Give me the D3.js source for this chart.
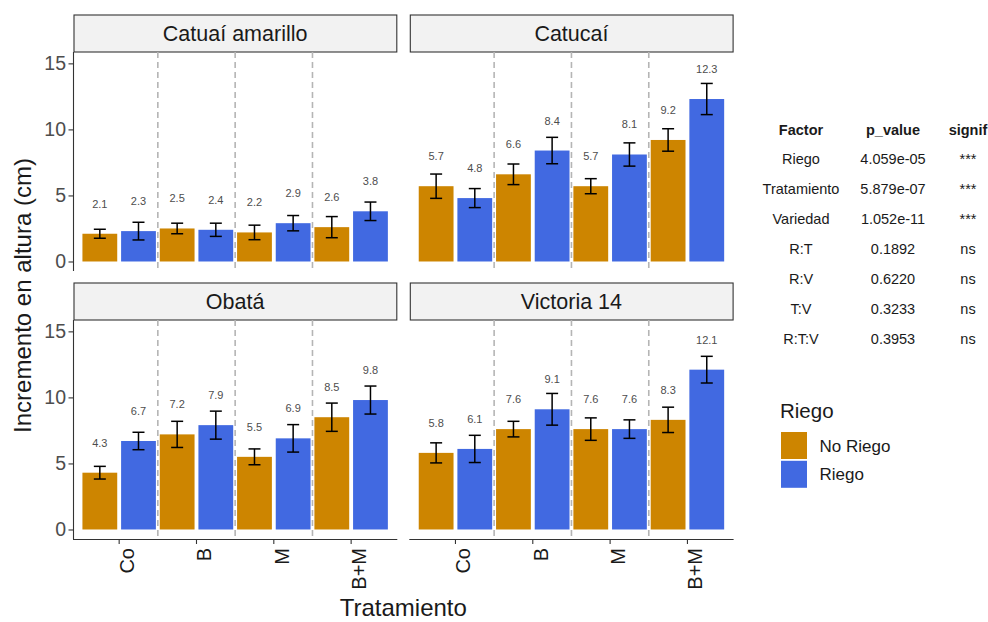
<!DOCTYPE html>
<html>
<head>
<meta charset="utf-8">
<script src="https://cdn.jsdelivr.net/npm/d3@7"></script>
<style>
  html, body { margin: 0; padding: 0; background: #ffffff; }
  svg { display: block; font-family: "Liberation Sans", Arial, Helvetica, sans-serif; }
</style>
</head>
<body>
<svg id="chart" width="988" height="622"></svg>
<script>
// ---------------- data ----------------
const varieties = ["Catuaí amarillo", "Catucaí", "Obatá", "Victoria 14"];
const treatments = ["Co", "B", "M", "B+M"];
const riegoLevels = ["No Riego", "Riego"];
const riegoColors = ["#CD8500", "#4169E1"];

// one inner array per variety, values in treatment order
const meanNoRiego = [[2.1, 2.5, 2.2, 2.6], [5.7, 6.6, 5.7, 9.2], [4.3, 7.2, 5.5, 8.5], [5.8, 7.6, 7.6, 8.3]];
const meanRiego   = [[2.3, 2.4, 2.9, 3.8], [4.8, 8.4, 8.1, 12.3], [6.7, 7.9, 6.9, 9.8], [6.1, 9.1, 7.6, 12.1]];
const seNoRiego   = [[0.34, 0.40, 0.55, 0.80], [0.92, 0.78, 0.57, 0.85], [0.48, 0.99, 0.60, 1.07], [0.76, 0.59, 0.85, 0.96]];
const seRiego     = [[0.67, 0.50, 0.58, 0.70], [0.72, 1.00, 0.88, 1.18], [0.66, 1.06, 1.04, 1.06], [1.03, 1.20, 0.70, 1.01]];

const yTicks = [0, 5, 10, 15];

const tableHeader = ["Factor", "p_value", "signif"];
const tableFactor = ["Riego", "Tratamiento", "Variedad", "R:T", "R:V", "T:V", "R:T:V"];
const tablePValue = ["4.059e-05", "5.879e-07", "1.052e-11", "0.1892", "0.6220", "0.3233", "0.3953"];
const tableSignif = ["***", "***", "***", "ns", "ns", "ns", "ns"];

// ---------------- layout ----------------
const svg = d3.select("#chart");
const colX = [73, 409.3];
const panelW = 324.3;
const stripTop = [15, 283];
const panelTop = [52, 320];
const panelBottom = [271, 539];
const yDomain = [-0.72, 15.86];

const axisColor = "#333333";

varieties.forEach((v, vi) => {
  const col = vi % 2, row = Math.floor(vi / 2);
  const x0 = colX[col];
  const g = svg.append("g");

  const x = d3.scaleBand().domain(treatments).range([x0, x0 + panelW]).paddingInner(0).paddingOuter(0.097);
  const xs = d3.scaleBand().domain(riegoLevels).range([0, x.bandwidth()]).paddingInner(0.1).paddingOuter(0.05);
  const y = d3.scaleLinear().domain(yDomain).range([panelBottom[row], panelTop[row]]);

  // strip
  g.append("rect")
    .attr("x", x0 + 1).attr("y", stripTop[row])
    .attr("width", panelW - 1.5).attr("height", panelTop[row] - stripTop[row])
    .attr("fill", "#F2F2F2").attr("stroke", "#333333").attr("stroke-width", 1.1);
  g.append("text")
    .attr("x", x0 + panelW / 2).attr("y", (stripTop[row] + panelTop[row]) / 2)
    .attr("dy", "0.36em").attr("text-anchor", "middle")
    .attr("font-size", 21.5).attr("fill", "#1a1a1a").text(v);

  // dashed separators between treatments
  treatments.slice(1).forEach(t => {
    g.append("line")
      .attr("x1", x(t)).attr("x2", x(t))
      .attr("y1", panelTop[row]).attr("y2", panelBottom[row])
      .attr("stroke", "#B5B5B5").attr("stroke-width", 1.6)
      .attr("stroke-dasharray", "6,4");
  });

  const rows = [];
  treatments.forEach((t, ti) => {
    rows.push({ t, r: riegoLevels[0], mean: meanNoRiego[vi][ti], se: seNoRiego[vi][ti], c: riegoColors[0] });
    rows.push({ t, r: riegoLevels[1], mean: meanRiego[vi][ti], se: seRiego[vi][ti], c: riegoColors[1] });
  });

  // bars
  g.selectAll("rect.bar").data(rows).enter().append("rect")
    .attr("class", "bar")
    .attr("x", d => x(d.t) + xs(d.r))
    .attr("width", xs.bandwidth())
    .attr("y", d => y(d.mean))
    .attr("height", d => y(0) - y(d.mean))
    .attr("fill", d => d.c);

  // error bars
  const cap = 6;
  const eb = g.selectAll("g.eb").data(rows).enter().append("g").attr("class", "eb")
    .attr("stroke", "#000").attr("stroke-width", 1.5).attr("fill", "none");
  eb.append("line")
    .attr("x1", d => x(d.t) + xs(d.r) + xs.bandwidth() / 2)
    .attr("x2", d => x(d.t) + xs(d.r) + xs.bandwidth() / 2)
    .attr("y1", d => y(d.mean - d.se)).attr("y2", d => y(d.mean + d.se));
  eb.append("line")
    .attr("x1", d => x(d.t) + xs(d.r) + xs.bandwidth() / 2 - cap)
    .attr("x2", d => x(d.t) + xs(d.r) + xs.bandwidth() / 2 + cap)
    .attr("y1", d => y(d.mean + d.se)).attr("y2", d => y(d.mean + d.se));
  eb.append("line")
    .attr("x1", d => x(d.t) + xs(d.r) + xs.bandwidth() / 2 - cap)
    .attr("x2", d => x(d.t) + xs(d.r) + xs.bandwidth() / 2 + cap)
    .attr("y1", d => y(d.mean - d.se)).attr("y2", d => y(d.mean - d.se));

  // value labels
  g.selectAll("text.val").data(rows).enter().append("text")
    .attr("class", "val")
    .attr("x", d => x(d.t) + xs(d.r) + xs.bandwidth() / 2)
    .attr("y", d => y(d.mean + 2.27))
    .attr("dy", "0.36em")
    .attr("text-anchor", "middle").attr("font-size", 11).attr("fill", "#4D4D4D")
    .text(d => d3.format(".1f")(d.mean));

  // y axis (left column only)
  if (col === 0) {
    const ya = g.append("g").attr("transform", `translate(${x0},0)`)
      .call(d3.axisLeft(y).tickValues(yTicks).tickSize(4.5).tickPadding(2.5).tickFormat(d3.format("d")));
    ya.select(".domain").attr("d", `M0.5,${panelTop[row]}V${panelBottom[row]}`).attr("stroke", axisColor).attr("stroke-width", 1.1);
    ya.selectAll(".tick line").attr("stroke", axisColor).attr("stroke-width", 1.1);
    ya.selectAll(".tick text").attr("font-size", 19.5).attr("fill", "#4D4D4D")
      .attr("font-family", "Liberation Sans, Arial, sans-serif");
  }

  // x axis (bottom row only)
  if (row === 1) {
    const xa = g.append("g").attr("transform", `translate(0,${panelBottom[row]})`)
      .call(d3.axisBottom(x).tickSize(5).tickSizeOuter(0));
    xa.select(".domain").attr("d", `M${x0},0.5H${x0 + panelW}`).attr("stroke", axisColor).attr("stroke-width", 1.1);
    xa.selectAll(".tick line").attr("stroke", axisColor).attr("stroke-width", 1.1);
    xa.selectAll(".tick text")
      .attr("font-size", 20).attr("fill", "#1a1a1a")
      .attr("font-family", "Liberation Sans, Arial, sans-serif")
      .attr("text-anchor", "end")
      .attr("y", 0).attr("dy", 0)
      .attr("transform", "translate(15,9) rotate(-90)");
  }
});

// axis titles
svg.append("text")
  .attr("x", (colX[0] + colX[1] + panelW) / 2).attr("y", 616)
  .attr("text-anchor", "middle").attr("font-size", 24).attr("fill", "#1a1a1a")
  .text("Tratamiento");
svg.append("text")
  .attr("transform", `translate(31,${(panelTop[0] + panelBottom[1]) / 2}) rotate(-90)`)
  .attr("text-anchor", "middle").attr("font-size", 24).attr("fill", "#1a1a1a")
  .text("Incremento en altura (cm)");

// ---------------- table ----------------
const colCenters = [801, 893, 968];
const rowY0 = 134.5, rowStep = 29.9;
const tg = svg.append("g").attr("font-size", 14.5).attr("fill", "#1a1a1a").attr("text-anchor", "middle");
tableHeader.forEach((h, i) => {
  tg.append("text").attr("x", colCenters[i]).attr("y", rowY0).attr("font-weight", "bold").text(h);
});
tableFactor.forEach((f, i) => {
  const yy = rowY0 + (i + 1) * rowStep;
  tg.append("text").attr("x", colCenters[0]).attr("y", yy).text(f);
  tg.append("text").attr("x", colCenters[1]).attr("y", yy).text(tablePValue[i]);
  tg.append("text").attr("x", colCenters[2]).attr("y", yy).text(tableSignif[i]);
});

// ---------------- legend ----------------
const lg = svg.append("g");
lg.append("text").attr("x", 780).attr("y", 417.5).attr("font-size", 20.5).attr("fill", "#1a1a1a").text("Riego");
riegoLevels.forEach((r, i) => {
  const yy = 432 + i * 28.8;
  lg.append("rect").attr("x", 781).attr("y", yy).attr("width", 26).attr("height", 27).attr("fill", riegoColors[i]);
  lg.append("text").attr("x", 819.5).attr("y", yy + 13.5).attr("dy", "0.36em")
    .attr("font-size", 17).attr("fill", "#1a1a1a").text(r);
});
</script>
</body>
</html>
